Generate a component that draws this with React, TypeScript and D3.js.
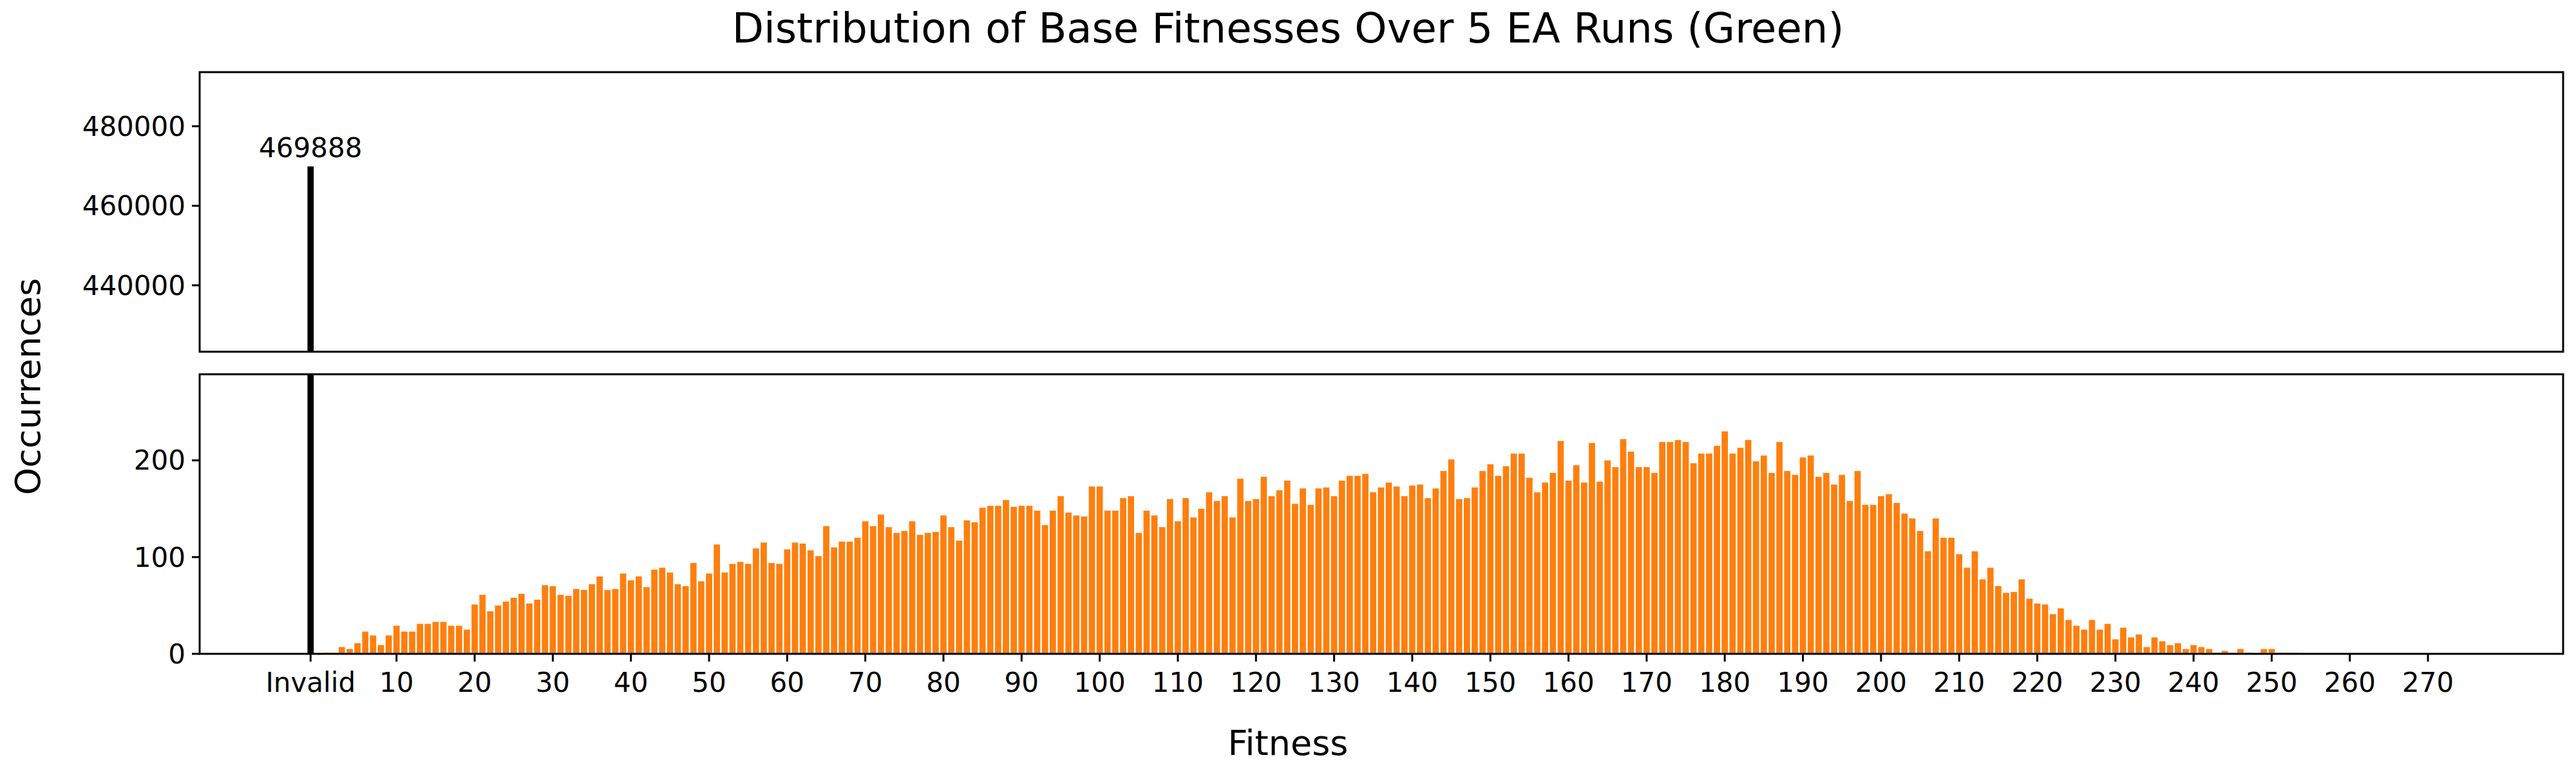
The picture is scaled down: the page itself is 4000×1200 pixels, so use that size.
import * as React from 'react';
import * as d3 from 'd3';

// occurrences per fitness value, fitness 1..253
const fitnessStart = 1;
const counts = [
  1, 1, 7, 5, 11, 23, 19, 9, 19, 29,
  23, 23, 31, 31, 33, 33, 29, 29, 25, 51,
  61, 44, 50, 54, 58, 62, 52, 56, 71, 70,
  61, 60, 67, 66, 72, 80, 66, 67, 83, 76,
  80, 69, 87, 89, 84, 72, 70, 94, 75, 83,
  113, 84, 93, 95, 93, 109, 115, 94, 93, 108,
  115, 114, 107, 101, 132, 110, 116, 116, 120, 137,
  132, 144, 131, 125, 127, 137, 123, 125, 126, 143,
  131, 117, 138, 136, 151, 153, 153, 159, 152, 153,
  153, 148, 133, 148, 163, 146, 143, 142, 173, 173,
  148, 148, 161, 163, 125, 148, 143, 131, 160, 137,
  161, 141, 150, 167, 158, 163, 141, 181, 158, 160,
  183, 163, 169, 179, 155, 171, 154, 171, 172, 163,
  179, 184, 184, 186, 167, 172, 177, 173, 163, 174,
  175, 161, 171, 189, 201, 160, 161, 172, 189, 196,
  184, 194, 207, 207, 182, 167, 177, 187, 220, 179,
  195, 177, 218, 178, 200, 193, 222, 209, 193, 193,
  187, 219, 219, 221, 219, 197, 207, 207, 215, 230,
  207, 213, 221, 199, 205, 187, 219, 189, 185, 203,
  205, 183, 187, 175, 185, 158, 189, 154, 154, 163,
  165, 156, 145, 140, 127, 106, 140, 120, 120, 103,
  89, 106, 77, 89, 70, 63, 64, 77, 57, 52,
  51, 41, 47, 35, 29, 25, 35, 25, 31, 15,
  27, 17, 20, 7, 17, 13, 9, 11, 5, 9,
  7, 5, 1, 3, 1, 5, 1, 0, 5, 5,
  1, 1, 1,
];
const invalidPos = -1;
const invalidCount = 469888;
const xTicks = [10, 20, 30, 40, 50, 60, 70, 80, 90, 100, 110, 120, 130, 140, 150, 160, 170, 180, 190, 200, 210, 220, 230, 240, 250, 260, 270];
const topTicks = [440000, 460000, 480000];
const bottomTicks = [0, 100, 200];

const W = 4000;
const H = 1200;
const left = 310;
const right = 3980;
const font = 'DejaVu Sans, sans-serif';
const tickFont = 42;

export default function App() {
  const x = d3.scaleLinear().domain([-15.2, 287.3]).range([left, right]);
  const yTop = d3.scaleLinear().domain([423300, 493600]).range([546, 112]);
  const yBot = d3.scaleLinear().domain([0, 289]).range([1015, 581]);
  const bw = x(0.8) - x(0);
  const bars = counts.map((c, i) => ({ f: fitnessStart + i, c }));

  return (
    <svg width={W} height={H} style={{ display: 'block', position: 'absolute', left: 0, top: 0 }} fontFamily={font}>
      <rect width={W} height={H} fill="#fff" />
      <text x={W / 2} y={66} fontSize={64} textAnchor="middle">
        Distribution of Base Fitnesses Over 5 EA Runs (Green)
      </text>

      {/* top panel */}
      <rect x={x(invalidPos) - bw / 2} y={yTop(invalidCount)} width={bw} height={546 - yTop(invalidCount)} fill="#000" />
      <text x={x(invalidPos)} y={yTop(invalidCount) - 14} fontSize={tickFont} textAnchor="middle">
        {invalidCount}
      </text>
      {topTicks.map((t) => (
        <g key={t}>
          <line x1={left - 12} x2={left} y1={yTop(t)} y2={yTop(t)} stroke="#000" strokeWidth={3} />
          <text x={left - 22} y={yTop(t)} dy="0.35em" fontSize={tickFont} textAnchor="end">{t}</text>
        </g>
      ))}
      <rect x={left} y={112} width={right - left} height={546 - 112} fill="none" stroke="#000" strokeWidth={3} />

      {/* bottom panel */}
      <rect x={x(invalidPos) - bw / 2} y={581} width={bw} height={1015 - 581} fill="#000" />
      {bars.filter((b) => b.c > 0).map((b) => (
        <rect key={b.f} x={x(b.f) - bw / 2} y={yBot(b.c)} width={bw} height={yBot(0) - yBot(b.c)} fill="#ff7f0e" />
      ))}
      {bottomTicks.map((t) => (
        <g key={t}>
          <line x1={left - 12} x2={left} y1={yBot(t)} y2={yBot(t)} stroke="#000" strokeWidth={3} />
          <text x={left - 22} y={yBot(t)} dy="0.35em" fontSize={tickFont} textAnchor="end">{t}</text>
        </g>
      ))}
      {[invalidPos, ...xTicks].map((t) => (
        <g key={t}>
          <line x1={x(t)} x2={x(t)} y1={1015} y2={1027} stroke="#000" strokeWidth={3} />
          <text x={x(t)} y={1042} dy="0.76em" fontSize={tickFont} textAnchor="middle">
            {t === invalidPos ? 'Invalid' : t}
          </text>
        </g>
      ))}
      <rect x={left} y={581} width={right - left} height={1015 - 581} fill="none" stroke="#000" strokeWidth={3} />

      <text x={W / 2} y={1172} fontSize={54} textAnchor="middle">Fitness</text>
      <text transform={`translate(62, ${H / 2}) rotate(-90)`} fontSize={54} textAnchor="middle">
        Occurrences
      </text>
    </svg>
  );
}
